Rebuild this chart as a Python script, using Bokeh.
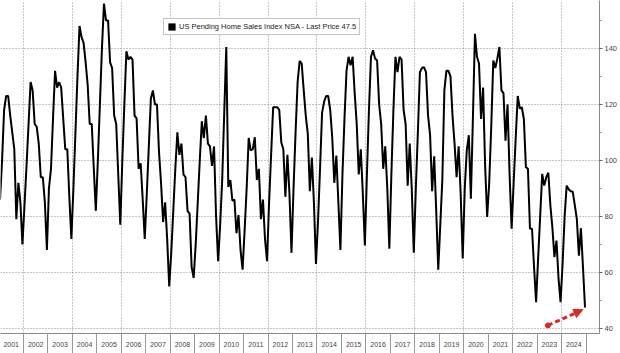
from bokeh.plotting import figure
from bokeh.models import (Range1d, FixedTicker, CustomJSTickFormatter, Legend, LegendItem,
                          Arrow, NormalHead)
from bokeh.embed import file_html
from bokeh.resources import INLINE

# ---- data (monthly, NSA index) ----
years = list(range(2001, 2025))
v2001 = [86, 100, 118, 123, 123, 116, 110, 104, 79, 92, 85, 70]
v2002 = [84, 98, 113, 128, 125, 113, 112, 106, 94, 94, 85, 68]
v2003 = [90, 97, 115, 132, 126, 128, 126, 115, 104, 104, 87, 72]
v2004 = [90, 110, 130, 148, 144, 142, 135, 127, 113, 113, 97, 82]
v2005 = [100, 120, 140, 156, 150, 150, 135, 133, 116, 113, 95, 77]
v2006 = [100, 120, 139, 136, 137, 136, 116, 115, 97, 99, 86, 72]
v2007 = [88, 105, 122, 125, 120, 120, 103, 92, 78, 85, 72, 55]
v2008 = [67, 82, 97, 110, 102, 106, 95, 94, 82, 81, 62, 58]
v2009 = [70, 85, 100, 114, 108, 116, 106, 105, 98, 105, 80, 64]
v2010 = [77, 93, 117, 140.5, 90.5, 93, 85.6, 86, 74, 80.5, 68, 61]
v2011 = [75, 90, 108, 103.6, 104, 108.3, 93, 97, 79, 86, 72, 64]
v2012 = [85, 102, 119, 119, 119, 118, 106.4, 104, 87, 102, 88, 67]
v2013 = [90, 110, 128, 135.5, 134.6, 125, 116, 109.5, 89, 101, 85, 63]
v2014 = [78, 97, 117, 121, 123, 123, 118, 108, 92, 101.7, 85, 68]
v2015 = [95, 115, 132, 137, 134, 137, 124, 113, 95, 104, 88, 69.6]
v2016 = [95, 118, 137, 139.3, 136.4, 135.7, 120, 113, 97, 105, 90, 68.5]
v2017 = [95, 118, 137, 131.5, 137, 136, 118, 113, 91, 106, 90, 67]
v2018 = [90, 110, 131.5, 133, 133.3, 131.5, 116, 109, 89, 101.5, 82, 61]
v2019 = [77, 93, 125, 132, 132, 130, 116, 106, 94, 105, 88, 65]
v2020 = [90, 103.6, 109, 86.3, 115, 145.2, 137, 134.6, 114.8, 126, 98, 79.8]
v2021 = [92, 112, 135.7, 133, 136.4, 140.5, 125, 124, 107, 120, 95, 75.6]
v2022 = [92, 108, 123, 118.5, 119, 114.8, 97.6, 97, 75.6, 75.6, 62, 49.4]
v2023 = [65, 80, 95.2, 91, 94, 95.6, 84, 76, 65.5, 71.4, 58, 49.4]
v2024 = [63, 80, 91, 89.7, 89, 88.8, 84, 79, 66, 75.8, 62, 47.5]
yearly = [v2001, v2002, v2003, v2004, v2005, v2006, v2007, v2008, v2009, v2010, v2011, v2012,
          v2013, v2014, v2015, v2016, v2017, v2018, v2019, v2020, v2021, v2022, v2023, v2024]

series_name = "US Pending Home Sales Index NSA - Last Price 47.5"
y_ticks = [40, 60, 80, 100, 120, 140]
y_minor = [50, 70, 90, 110, 130, 150]
arrow_start = (2023.44, 41.1)
arrow_end = (2024.87, 46.7)

# monthly positions (mid-month, decimal years)
t = []
vals = []
for yr, row in zip(years, yearly):
    for m, v in enumerate(row):
        t.append(yr + (m + 0.5) / 12.0)
        vals.append(v)

x0, x1 = 2001.061, 2025.551
p = figure(width=620, height=353, x_range=Range1d(x0, x1), y_range=Range1d(38.2, 157.1),
           output_backend="svg", toolbar_location=None, y_axis_location="right",
           min_border_left=0, min_border_top=0, min_border_right=20, min_border_bottom=20)
p.outline_line_color = None
p.background_fill_color = "white"
p.border_fill_color = "white"

FONT = "Liberation Sans"

# x axis: labels at mid-year, separators at year boundaries
xa = p.xaxis[0]
xa.ticker = FixedTicker(ticks=[y + 0.5 for y in years], minor_ticks=[y for y in years[1:]] + [2025])
xa.formatter = CustomJSTickFormatter(code="return Math.floor(tick).toString();")
xa.major_tick_line_color = None
xa.major_tick_in = 0
xa.major_tick_out = 0
xa.minor_tick_in = 0
xa.minor_tick_out = 20
xa.minor_tick_line_color = "#999999"
xa.axis_line_color = "#888888"
xa.major_label_standoff = -12
xa.major_label_text_font = FONT
xa.major_label_text_font_size = "7px"
xa.major_label_text_color = "#444444"

ya = p.yaxis[0]
ya.ticker = FixedTicker(ticks=y_ticks, minor_ticks=y_minor)
ya.major_tick_in = 0
ya.major_tick_out = 3
ya.minor_tick_in = 0
ya.minor_tick_out = 2
ya.major_tick_line_color = "#666666"
ya.minor_tick_line_color = "#888888"
ya.axis_line_color = "#888888"
ya.major_label_standoff = 2
ya.major_label_text_font = FONT
ya.major_label_text_font_size = "7.5px"
ya.major_label_text_color = "#444444"

p.ygrid.ticker = FixedTicker(ticks=y_ticks)
p.xgrid.ticker = FixedTicker(ticks=[y for y in range(2002, 2025, 2)])
for g in (p.xgrid[0], p.ygrid[0]):
    g.grid_line_color = "#8c8c8c"
    g.grid_line_dash = "1 2"
    g.grid_line_width = 1

p.line(t, vals, line_color="black", line_width=2)

# legend box (zero-area swatch renderer at the last observation)
sq = p.quad(left=[t[-1]], right=[t[-1]], top=[vals[-1]], bottom=[vals[-1]],
            fill_color="black", line_color=None)
legend = Legend(items=[LegendItem(label=series_name, renderers=[sq])], location=(163, 298),
                label_text_font=FONT, label_text_font_size="7.5px", label_text_color="#222222",
                glyph_width=9, glyph_height=9, label_height=9, label_standoff=3,
                padding=3, margin=0, spacing=0,
                border_line_color="#8a8a8a", border_line_width=1, background_fill_alpha=1)
p.add_layout(legend)

# red dashed arrow
red = "#d42a2a"
p.add_layout(Arrow(end=NormalHead(size=9, fill_color=red, line_color=red),
                   x_start=arrow_start[0], y_start=arrow_start[1],
                   x_end=arrow_end[0], y_end=arrow_end[1],
                   line_color=red, line_width=3, line_dash="5 3"))
p.scatter([arrow_start[0]], [arrow_start[1]], size=5, color=red)

open("out.html", "w").write(file_html(p, INLINE))
